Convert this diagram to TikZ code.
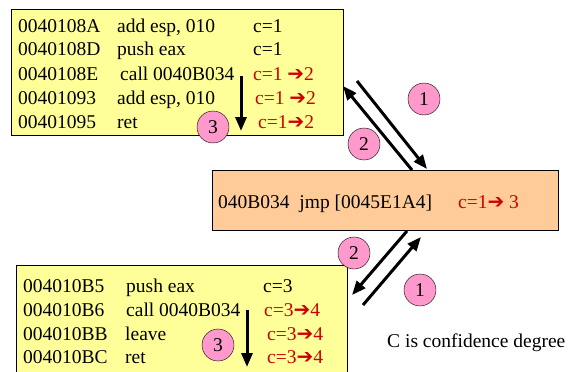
\documentclass[tikz,border=0pt]{standalone}
\usepackage{fontspec}
\setmainfont{Liberation Serif}
\newfontfamily\dingfont{DejaVu Sans}
\usetikzlibrary{arrows.meta}
\definecolor{codeyellow}{HTML}{FFFF99}
\definecolor{jmporange}{HTML}{FFCC99}
\definecolor{steppink}{HTML}{FF99CC}
\definecolor{confred}{HTML}{CC0000}
\newcommand{\confarrow}{{\dingfont\bfseries\fontsize{20}{23}\selectfont ➔}}

\begin{document}
\begin{tikzpicture}[x=1pt,y=-1pt,
    txt/.style={anchor=base west, inner sep=0pt, font=\fontsize{19.5}{23}\selectfont},
    redtxt/.style={txt, text=confred},
    codebox/.style={draw, line width=0.9pt, anchor=north west, inner sep=0pt},
    stepnum/.style={circle, draw, fill=steppink, minimum size=32pt, inner sep=0pt, font=\fontsize{19.5}{23}\selectfont},
    flow/.style={line width=3pt, -{Triangle[length=14pt,width=11pt]}}]
    \useasboundingbox (0,0) rectangle (571,372);
    \clip (0,0) rectangle (571,372);

    % boxes
    \node [codebox, fill=codeyellow, minimum width=332pt, minimum height=126pt] (caller1) at (11,9) {};
    \node [codebox, fill=jmporange, minimum width=346pt, minimum height=60pt] (jmp) at (212,170) {};
    \node [codebox, fill=codeyellow, minimum width=331pt, minimum height=125pt] (caller2) at (16,265) {};

    % first caller
    \node [txt] (a1) at (18,32) {0040108A};
    \node [txt] (i1) at (117,32) {add esp, 010};
    \node [txt] (c1) at (253,32) {c=1};
    \node [txt] (a2) at (18,56) {0040108D};
    \node [txt] (i2) at (117,56) {push eax};
    \node [txt] (c2) at (253,56) {c=1};
    \node [txt] (a3) at (18,80) {0040108E};
    \node [txt] (i3) at (120,80) {call 0040B034};
    \node [redtxt] (c3) at (253,80) {c=1 \confarrow2};
    \node [txt] (a4) at (18,104) {00401093};
    \node [txt] (i4) at (117,104) {add esp, 010};
    \node [redtxt] (c4) at (255,104) {c=1 \confarrow2};
    \node [txt] (a5) at (18,128) {00401095};
    \node [txt] (i5) at (117,128) {ret};
    \node [redtxt] (c5) at (258,128) {c=1\confarrow2};

    % jump stub
    \node [txt] (stub) at (218,208) {040B034\ \ jmp [0045E1A4]};
    \node [redtxt] (cstub) at (458,208) {c=1\confarrow\ 3};

    % second caller
    \node [txt] (b1) at (23,292) {004010B5};
    \node [txt] (j1) at (126,292) {push eax};
    \node [txt] (d1) at (263,292) {c=3};
    \node [txt] (b2) at (23,316) {004010B6};
    \node [txt] (j2) at (126,316) {call 0040B034};
    \node [redtxt] (d2) at (264,316) {c=3\confarrow4};
    \node [txt] (b3) at (23,340) {004010BB};
    \node [txt] (j3) at (125,340) {leave};
    \node [redtxt] (d3) at (267,340) {c=3\confarrow4};
    \node [txt] (b4) at (23,363) {004010BC};
    \node [txt] (j4) at (125,363) {ret};
    \node [redtxt] (d4) at (267,363) {c=3\confarrow4};

    \node [txt] (note) at (387,347) {C is confidence degree};

    % arrow ends
    \coordinate (go1 s) at (357,81);
    \coordinate (go1 e) at (427,169);
    \coordinate (back1 s) at (412,170);
    \coordinate (back1 e) at (343,86);
    \coordinate (run1 s) at (241,76);
    \coordinate (run1 e) at (241,131);
    \coordinate (go2 s) at (363,305);
    \coordinate (go2 e) at (421,237);
    \coordinate (back2 s) at (407,231);
    \coordinate (back2 e) at (352,295);
    \coordinate (run2 s) at (247,310);
    \coordinate (run2 e) at (247,367);

    \draw [flow] (go1 s) -- (go1 e);
    \draw [flow] (back1 s) -- (back1 e);
    \draw [flow] (run1 s) -- (run1 e);
    \draw [flow] (go2 s) -- (go2 e);
    \draw [flow] (back2 s) -- (back2 e);
    \draw [flow] (run2 s) -- (run2 e);

    % step numbers
    \node [stepnum] (s1 top) at (424,99) {1};
    \node [stepnum] (s2 top) at (364,144) {2};
    \node [stepnum] (s3 top) at (213,127) {3};
    \node [stepnum] (s2 bot) at (354,253) {2};
    \node [stepnum] (s1 bot) at (420,290) {1};
    \node [stepnum] (s3 bot) at (218,345) {3};
\end{tikzpicture}
\end{document}
